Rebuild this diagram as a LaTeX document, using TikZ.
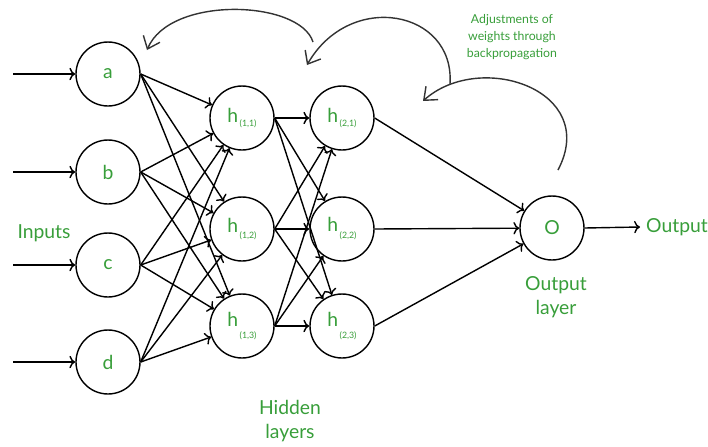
\documentclass[tikz,border=0pt]{standalone}
\usepackage{fontspec}
\setmainfont{Lato}
\usetikzlibrary{arrows.meta}
\definecolor{labgreen}{RGB}{56,158,58}
\newcommand{\hlab}[2]{h\raisebox{#2}{\fontsize{5}{5}\selectfont\,(#1)}}

\begin{document}
\begin{tikzpicture}[x=0.02cm, y=-0.02cm, >=To,
  neuron/.style={draw, circle, thick, minimum size=1.28cm, inner sep=0pt, text=labgreen, font=\fontsize{11}{13}\selectfont},
  lbl/.style={text=labgreen, align=center, font=\fontsize{11}{14}\selectfont},
  link/.style={->, thick},
  back/.style={-{Straight Barb[length=2.2mm, width=3.6mm]}, thick, black!80}]
\useasboundingbox (0,0) rectangle (708,447);

% input layer
\node[neuron] (a) at (108,74) {a};
\node[neuron] (b) at (108,172) {b};
\node[neuron] (c) at (108,265) {c};
\node[neuron] (d) at (108,362) {d};

% hidden layers
\node[neuron] (h11) at (242,118) {\hlab{1,1}{-2pt}};
\node[neuron] (h12) at (242,229) {\hlab{1,2}{-3pt}};
\node[neuron] (h13) at (242,326) {\hlab{1,3}{-7pt}};
\node[neuron] (h21) at (342,118) {\hlab{2,1}{-2pt}};
\node[neuron] (h22) at (342,229) {\hlab{2,2}{-4pt}};
\node[neuron] (h23) at (342,326) {\hlab{2,3}{-7pt}};

% output layer
\node[neuron] (o) at (552,228) {O};
\node[lbl] (out) at (677,227) {Output};

% labels
\node[lbl] (inputs) at (44,233) {Inputs};
\node[lbl] (hidden) at (290,421) {Hidden\\layers};
\node[lbl] (outlayer) at (556,297) {Output\\layer};
\node[lbl, font=\fontsize{7}{9.6}\selectfont] (adjust) at (512,37) {Adjustments of\\weights through\\backpropagation};

% inputs
\coordinate (ina) at (13,74);
\coordinate (inb) at (13,172);
\coordinate (inc) at (13,265);
\coordinate (ind) at (13,362);
\foreach \n in {a,b,c,d}
  \draw[link] (in\n) -- (\n.west);

% weights
\foreach \i in {a,b,c,d}
  \foreach \j in {h11,h12,h13}
    \draw[link] (\i.east) -- (\j);
\foreach \i in {h11,h12,h13}
  \foreach \j in {h21,h22,h23}
    \draw[link] (\i.east) -- (\j);
\foreach \i in {h21,h22,h23}
  \draw[link] (\i.east) -- (o);
\draw[link] (o.east) -- (out.west);

% backpropagation
\coordinate (bp3) at (558,170);
\coordinate (bp3e) at (423,101);
\coordinate (bp2) at (450,84);
\coordinate (bp2e) at (307,65);
\coordinate (bp1) at (313,42);
\coordinate (bp1e) at (147,50);
\draw[back] (bp3) .. controls (600,90) and (480,50) .. (bp3e);
\draw[back] (bp2) .. controls (455,10) and (350,-10) .. (bp2e);
\draw[back] (bp1) .. controls (300,0) and (170,-5) .. (bp1e);
\end{tikzpicture}
\end{document}
